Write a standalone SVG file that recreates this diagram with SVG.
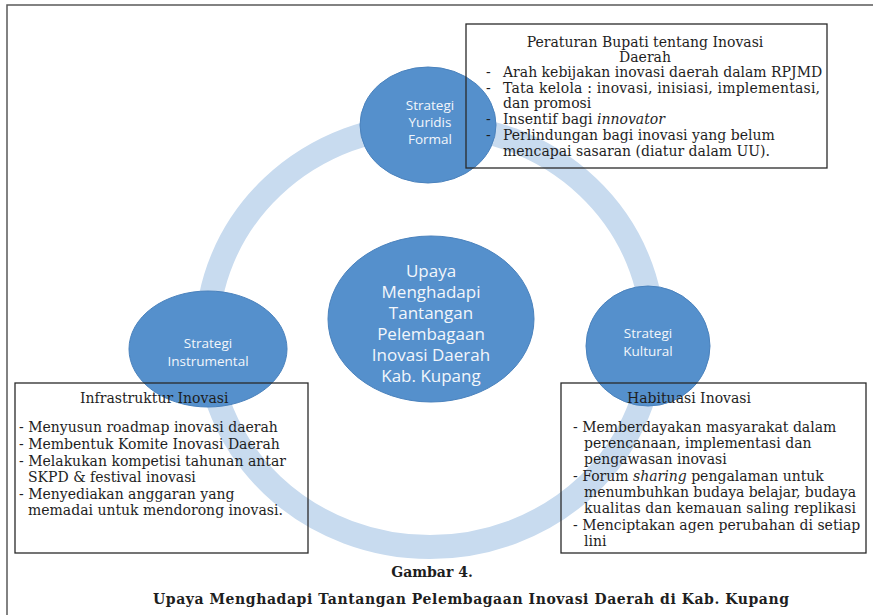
<svg xmlns="http://www.w3.org/2000/svg" width="873" height="615" viewBox="0 0 873 615">
  <style>
    .frame { fill: none; stroke: #5a5a5a; stroke-width: 1.5; }
    .box { fill: none; stroke: #2a2a2a; stroke-width: 1.3; }
    .bubble { fill: #5590cc; stroke: #4a82bd; stroke-width: 1; }
    .ring { fill: none; stroke: #c8dbef; stroke-width: 24; }
    .ctext { font-family: "Open Sans", "Noto Sans", sans-serif; fill: #f2f6fb; text-anchor: middle; }
    .small { font-size: 13.5px; }
    .big { font-size: 17px; }
    .body { font-family: "DejaVu Serif", "Liberation Serif", serif; font-size: 14px; fill: #1e1e1e; }
    .cap { font-family: "DejaVu Serif", "Liberation Serif", serif; font-size: 14px; font-weight: bold; fill: #1e1e1e; text-anchor: middle; }
  </style>

  <rect width="873" height="615" fill="#ffffff"/>
  <!-- page frame, open to the right and bottom -->
  <path class="frame" d="M7,615 V5 H873"/>

  <!-- cycle band linking the three strategies -->
  <g id="connectors">
    <ellipse class="ring" cx="430" cy="336" rx="223" ry="211"/>
  </g>

  <!-- centre hub -->
  <g id="hub">
    <ellipse class="bubble" cx="431" cy="319" rx="103" ry="83"/>
    <text class="ctext big" x="431" y="277">Upaya</text>
    <text class="ctext big" x="431" y="298">Menghadapi</text>
    <text class="ctext big" x="431" y="319">Tantangan</text>
    <text class="ctext big" x="431" y="340">Pelembagaan</text>
    <text class="ctext big" x="431" y="361">Inovasi Daerah</text>
    <text class="ctext big" x="431" y="382">Kab. Kupang</text>
  </g>

  <!-- strategy bubbles -->
  <g id="yuridis">
    <ellipse class="bubble" cx="428" cy="125" rx="68" ry="58"/>
    <text class="ctext small" x="430" y="110">Strategi</text>
    <text class="ctext small" x="430" y="127">Yuridis</text>
    <text class="ctext small" x="430" y="144">Formal</text>
  </g>
  <g id="instrumental">
    <ellipse class="bubble" cx="208" cy="349" rx="79" ry="58"/>
    <text class="ctext small" x="208" y="348">Strategi</text>
    <text class="ctext small" x="208" y="366">Instrumental</text>
  </g>
  <g id="kultural">
    <ellipse class="bubble" cx="648" cy="346" rx="62" ry="60"/>
    <text class="ctext small" x="648" y="338">Strategi</text>
    <text class="ctext small" x="648" y="356">Kultural</text>
  </g>

  <!-- legal framework box -->
  <g id="box-yuridis">
    <rect class="box" x="466" y="24" width="361" height="144"/>
    <text class="body" x="645" y="47" text-anchor="middle">Peraturan Bupati tentang Inovasi</text>
    <text class="body" x="645" y="62" text-anchor="middle">Daerah</text>
    <text class="body" x="486" y="77">-</text>
    <text class="body" x="503" y="77">Arah kebijakan inovasi daerah dalam RPJMD</text>
    <text class="body" x="486" y="93">-</text>
    <text class="body" x="503" y="93" textLength="317">Tata kelola : inovasi, inisiasi, implementasi,</text>
    <text class="body" x="503" y="108">dan promosi</text>
    <text class="body" x="486" y="124">-</text>
    <text class="body" x="503" y="124">Insentif bagi <tspan font-style="italic">innovator</tspan></text>
    <text class="body" x="486" y="140">-</text>
    <text class="body" x="503" y="140">Perlindungan bagi inovasi yang belum</text>
    <text class="body" x="503" y="156">mencapai sasaran (diatur dalam UU).</text>
  </g>

  <!-- infrastructure box -->
  <g id="box-instrumental">
    <rect class="box" x="15" y="383" width="293" height="170"/>
    <text class="body" x="80" y="403">Infrastruktur Inovasi</text>
    <text class="body" x="19" y="432">- Menyusun roadmap inovasi daerah</text>
    <text class="body" x="19" y="449">- Membentuk Komite Inovasi Daerah</text>
    <text class="body" x="19" y="466">- Melakukan kompetisi tahunan antar</text>
    <text class="body" x="28" y="482">SKPD &amp; festival inovasi</text>
    <text class="body" x="19" y="499">- Menyediakan anggaran yang</text>
    <text class="body" x="28" y="515">memadai untuk mendorong inovasi.</text>
  </g>

  <!-- culture box -->
  <g id="box-kultural">
    <rect class="box" x="561" y="383" width="305" height="170"/>
    <text class="body" x="627" y="403">Habituasi Inovasi</text>
    <text class="body" x="573" y="432">- Memberdayakan  masyarakat dalam</text>
    <text class="body" x="584" y="448">perencanaan, implementasi dan</text>
    <text class="body" x="584" y="464">pengawasan inovasi</text>
    <text class="body" x="573" y="481">- Forum <tspan font-style="italic">sharing</tspan>  pengalaman untuk</text>
    <text class="body" x="584" y="497" textLength="272">menumbuhkan budaya belajar, budaya</text>
    <text class="body" x="584" y="513" textLength="272">kualitas dan kemauan saling replikasi</text>
    <text class="body" x="573" y="530">- Menciptakan agen perubahan di setiap</text>
    <text class="body" x="584" y="546">lini</text>
  </g>

  <!-- figure caption -->
  <g id="caption">
    <text class="cap" x="432" y="577">Gambar 4.</text>
    <text class="cap" x="471" y="604" textLength="636">Upaya Menghadapi Tantangan Pelembagaan Inovasi Daerah di Kab. Kupang</text>
  </g>
</svg>
